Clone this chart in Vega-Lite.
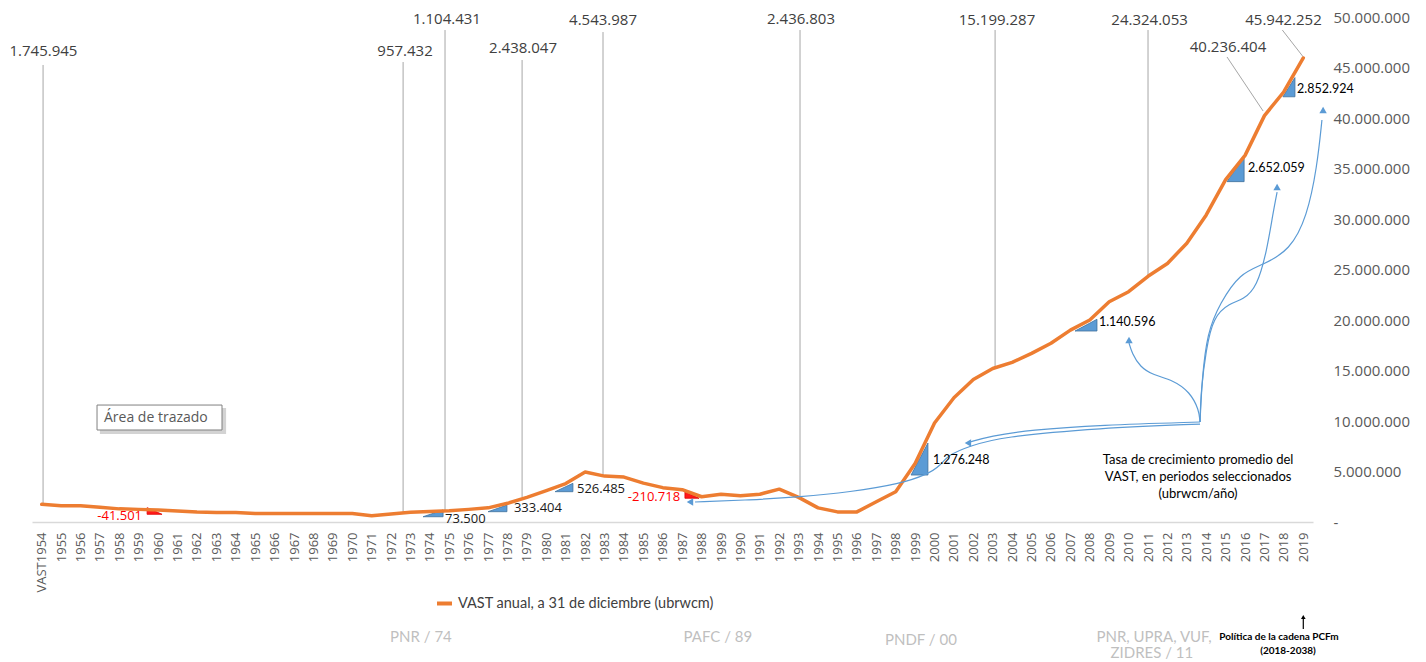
{
  "$schema": "https://vega.github.io/schema/vega-lite/v6.json",
  "width": 1281,
  "height": 505,
  "autosize": {"type": "none"},
  "padding": {"left": 32, "top": 17, "right": 113, "bottom": 140},
  "background": "white",
  "config": {"view": {"stroke": null}, "font": "Open Sans"},
  "datasets": {
    "line": [
      {"x": 1954, "y": 1745945}, {"x": 1955, "y": 1600000}, {"x": 1956, "y": 1600000}, {"x": 1957, "y": 1450000},
      {"x": 1958, "y": 1300000}, {"x": 1959, "y": 1250000}, {"x": 1960, "y": 1200000}, {"x": 1961, "y": 1100000},
      {"x": 1962, "y": 1000000}, {"x": 1963, "y": 950000}, {"x": 1964, "y": 950000}, {"x": 1965, "y": 850000},
      {"x": 1966, "y": 850000}, {"x": 1967, "y": 850000}, {"x": 1968, "y": 850000}, {"x": 1969, "y": 850000},
      {"x": 1970, "y": 850000}, {"x": 1971, "y": 620000}, {"x": 1972, "y": 800000}, {"x": 1973, "y": 957432},
      {"x": 1974, "y": 1050000}, {"x": 1975, "y": 1104431}, {"x": 1976, "y": 1250000}, {"x": 1977, "y": 1400000},
      {"x": 1978, "y": 1850000}, {"x": 1979, "y": 2438047}, {"x": 1980, "y": 3100000}, {"x": 1981, "y": 3800000},
      {"x": 1982, "y": 4950000}, {"x": 1983, "y": 4543987}, {"x": 1984, "y": 4450000}, {"x": 1985, "y": 3850000},
      {"x": 1986, "y": 3400000}, {"x": 1987, "y": 3200000}, {"x": 1988, "y": 2500000}, {"x": 1989, "y": 2750000},
      {"x": 1990, "y": 2600000}, {"x": 1991, "y": 2750000}, {"x": 1992, "y": 3250000}, {"x": 1993, "y": 2436803},
      {"x": 1994, "y": 1400000}, {"x": 1995, "y": 1000000}, {"x": 1996, "y": 1000000}, {"x": 1997, "y": 2000000},
      {"x": 1998, "y": 3000000}, {"x": 1999, "y": 5800000}, {"x": 2000, "y": 9800000}, {"x": 2001, "y": 12300000},
      {"x": 2002, "y": 14100000}, {"x": 2003, "y": 15199287}, {"x": 2004, "y": 15800000}, {"x": 2005, "y": 16700000},
      {"x": 2006, "y": 17700000}, {"x": 2007, "y": 19000000}, {"x": 2008, "y": 20000000}, {"x": 2009, "y": 21800000},
      {"x": 2010, "y": 22800000}, {"x": 2011, "y": 24324053}, {"x": 2012, "y": 25600000}, {"x": 2013, "y": 27600000},
      {"x": 2014, "y": 30400000}, {"x": 2015, "y": 33900000}, {"x": 2016, "y": 36300000}, {"x": 2017, "y": 40236404},
      {"x": 2018, "y": 42600000}, {"x": 2019, "y": 45942252}
    ],
    "leaders": [
      {"x": 1954.07, "y": 1745945, "x2": 1954.07, "y2": 45250000},
      {"x": 1972.62, "y": 957432, "x2": 1972.62, "y2": 45540000},
      {"x": 1974.78, "y": 1104431, "x2": 1974.78, "y2": 48710000},
      {"x": 1978.75, "y": 2438047, "x2": 1978.75, "y2": 45740000},
      {"x": 1982.92, "y": 4543987, "x2": 1982.92, "y2": 48510000},
      {"x": 1993.07, "y": 2436803, "x2": 1993.07, "y2": 48710000},
      {"x": 2003.12, "y": 15199287, "x2": 2003.12, "y2": 48710000},
      {"x": 2011.0, "y": 24324053, "x2": 2011.0, "y2": 48710000},
      {"x": 2016.93, "y": 40690000, "x2": 2015.07, "y2": 46040000},
      {"x": 2019.0, "y": 46040000, "x2": 2017.92, "y2": 48710000}
    ],
    "tops": [
      {"x": 1954.09, "y": 46630000, "t": "1.745.945"},
      {"x": 1972.72, "y": 46630000, "t": "957.432"},
      {"x": 1974.88, "y": 49800000, "t": "1.104.431"},
      {"x": 1978.8, "y": 46930000, "t": "2.438.047"},
      {"x": 1982.92, "y": 49700000, "t": "4.543.987"},
      {"x": 1993.12, "y": 49800000, "t": "2.436.803"},
      {"x": 2003.22, "y": 49700000, "t": "15.199.287"},
      {"x": 2011.08, "y": 49700000, "t": "24.324.053"},
      {"x": 2015.12, "y": 47030000, "t": "40.236.404"},
      {"x": 2017.98, "y": 49700000, "t": "45.942.252"}
    ],
    "tb": [
      {"id": 1, "x": 1973.65, "y": 520000, "y2": 520000}, {"id": 1, "x": 1974.68, "y": 1190000, "y2": 520000},
      {"id": 2, "x": 1977.0, "y": 1020000, "y2": 1020000}, {"id": 2, "x": 1977.97, "y": 1680000, "y2": 1020000},
      {"id": 3, "x": 1980.45, "y": 3000000, "y2": 3000000}, {"id": 3, "x": 1981.37, "y": 3830000, "y2": 3000000},
      {"id": 4, "x": 1998.79, "y": 4650000, "y2": 4650000}, {"id": 4, "x": 1999.66, "y": 7820000, "y2": 4650000},
      {"id": 5, "x": 2007.24, "y": 18910000, "y2": 18910000}, {"id": 5, "x": 2008.37, "y": 20070000, "y2": 18910000},
      {"id": 6, "x": 2015.07, "y": 33700000, "y2": 33700000}, {"id": 6, "x": 2015.95, "y": 36100000, "y2": 33700000},
      {"id": 7, "x": 2017.95, "y": 42100000, "y2": 42100000}, {"id": 7, "x": 2018.57, "y": 44000000, "y2": 42100000}
    ],
    "tr": [
      {"id": 1, "x": 1959.43, "y": 1420000, "y2": 760000}, {"id": 1, "x": 1960.2, "y": 760000, "y2": 760000},
      {"id": 2, "x": 1987.14, "y": 3000000, "y2": 2350000}, {"id": 2, "x": 1987.87, "y": 2350000, "y2": 2350000}
    ],
    "lbBig": [
      {"x": 1974.78, "y": 300000, "t": "73.500"},
      {"x": 1978.33, "y": 1390000, "t": "333.404"},
      {"x": 1981.58, "y": 3270000, "t": "526.485"}
    ],
    "lbSmall": [
      {"x": 1999.92, "y": 6140000, "t": "1.276.248"},
      {"x": 2008.47, "y": 19800000, "t": "1.140.596"},
      {"x": 2016.15, "y": 35050000, "t": "2.652.059"},
      {"x": 2018.68, "y": 42870000, "t": "2.852.924"}
    ],
    "lr": [
      {"x": 1959.17, "y": 590000, "t": "-41.501"},
      {"x": 1986.89, "y": 2480000, "t": "-210.718"}
    ],
    "arr": [
      {"id": "A", "i": 1, "x": 2013.68, "y": 9900000}, {"id": "A", "i": 2, "x": 2008.53, "y": 9600000},
      {"id": "A", "i": 3, "x": 2004.92, "y": 9110000}, {"id": "A", "i": 4, "x": 2002.86, "y": 8510000},
      {"id": "A", "i": 5, "x": 2001.8, "y": 7900000},
      {"id": "B", "i": 1, "x": 2013.68, "y": 9700000}, {"id": "B", "i": 2, "x": 2008.53, "y": 9310000},
      {"id": "B", "i": 3, "x": 2003.37, "y": 8420000}, {"id": "B", "i": 4, "x": 2001.83, "y": 7520000},
      {"id": "B", "i": 5, "x": 2000.69, "y": 6630000}, {"id": "B", "i": 6, "x": 2000.28, "y": 5540000},
      {"id": "B", "i": 7, "x": 1999.66, "y": 4750000}, {"id": "B", "i": 8, "x": 1998.22, "y": 3760000},
      {"id": "B", "i": 9, "x": 1995.65, "y": 2970000}, {"id": "B", "i": 10, "x": 1993.07, "y": 2480000},
      {"id": "B", "i": 11, "x": 1990.49, "y": 2180000}, {"id": "B", "i": 12, "x": 1987.66, "y": 1980000},
      {"id": "C", "i": 1, "x": 2013.68, "y": 9900000}, {"id": "C", "i": 2, "x": 2013.63, "y": 11090000},
      {"id": "C", "i": 3, "x": 2013.16, "y": 12870000}, {"id": "C", "i": 4, "x": 2012.29, "y": 14060000},
      {"id": "C", "i": 5, "x": 2011.26, "y": 14550000}, {"id": "C", "i": 6, "x": 2010.59, "y": 15350000},
      {"id": "C", "i": 7, "x": 2010.17, "y": 16730000}, {"id": "C", "i": 8, "x": 2010.02, "y": 17720000},
      {"id": "D", "i": 1, "x": 2013.68, "y": 9900000}, {"id": "D", "i": 2, "x": 2013.73, "y": 13070000},
      {"id": "D", "i": 3, "x": 2013.99, "y": 17030000}, {"id": "D", "i": 4, "x": 2014.35, "y": 20300000},
      {"id": "D", "i": 5, "x": 2015.22, "y": 21680000}, {"id": "D", "i": 6, "x": 2015.89, "y": 21980000},
      {"id": "D", "i": 7, "x": 2016.62, "y": 23270000}, {"id": "D", "i": 8, "x": 2017.13, "y": 26930000},
      {"id": "D", "i": 9, "x": 2017.44, "y": 30590000}, {"id": "D", "i": 10, "x": 2017.65, "y": 32670000},
      {"id": "E", "i": 1, "x": 2013.68, "y": 9900000}, {"id": "E", "i": 2, "x": 2013.78, "y": 14060000},
      {"id": "E", "i": 3, "x": 2014.04, "y": 18710000}, {"id": "E", "i": 4, "x": 2014.71, "y": 21680000},
      {"id": "E", "i": 5, "x": 2015.74, "y": 24650000}, {"id": "E", "i": 6, "x": 2016.92, "y": 25450000},
      {"id": "E", "i": 7, "x": 2018.32, "y": 26930000}, {"id": "E", "i": 8, "x": 2019.19, "y": 30200000},
      {"id": "E", "i": 9, "x": 2019.71, "y": 35150000}, {"id": "E", "i": 10, "x": 2019.96, "y": 39800000}
    ],
    "headsUp": [
      {"x": 2010.02, "y": 18020000},
      {"x": 2017.65, "y": 33170000},
      {"x": 2020.02, "y": 40790000}
    ],
    "headsLeft": [
      {"x": 2001.72, "y": 7820000},
      {"x": 1987.4, "y": 1980000}
    ],
    "tasa": [
      {"x": 2013.58, "y": 6140000, "t": "Tasa de crecimiento promedio del"},
      {"x": 2013.58, "y": 4460000, "t": "VAST, en periodos seleccionados"},
      {"x": 2013.58, "y": 2770000, "t": "(ubrwcm/año)"}
    ],
    "boxShadow": [{"x": 1957.0, "x2": 1963.5, "y": 11290000, "y2": 8710000}],
    "box": [{"x": 1956.85, "x2": 1963.29, "y": 11580000, "y2": 9110000}],
    "boxText": [{"x": 1957.21, "y": 10300000, "t": "Área de trazado"}],
    "bottomGray": [
      {"x": 1973.54, "y": -11390000, "t": "PNR / 74"},
      {"x": 1988.84, "y": -11390000, "t": "PAFC / 89"},
      {"x": 1999.3, "y": -11680000, "t": "PNDF / 00"},
      {"x": 2011.31, "y": -11390000, "t": "PNR, UPRA, VUF,"},
      {"x": 2011.2, "y": -12950000, "t": "ZIDRES / 11"}
    ],
    "bottomBlack": [
      {"x": 2017.75, "y": -11390000, "t": "Política de la cadena PCFm"},
      {"x": 2018.21, "y": -12770000, "t": "(2018-2038)"}
    ],
    "smallArrow": [{"x": 2019.0, "y": -10590000, "x2": 2019.0, "y2": -9600000}],
    "smallHead": [{"x": 2019.0, "y": -9410000}]
  },
  "encoding": {
    "x": {
      "field": "x", "type": "quantitative",
      "scale": {"domain": [1953.5, 2019.5], "nice": false, "zero": false},
      "axis": {
        "title": null,
        "values": [1954,1955,1956,1957,1958,1959,1960,1961,1962,1963,1964,1965,1966,1967,1968,1969,1970,1971,1972,1973,1974,1975,1976,1977,1978,1979,1980,1981,1982,1983,1984,1985,1986,1987,1988,1989,1990,1991,1992,1993,1994,1995,1996,1997,1998,1999,2000,2001,2002,2003,2004,2005,2006,2007,2008,2009,2010,2011,2012,2013,2014,2015,2016,2017,2018,2019],
        "format": "d",
        "labelExpr": "datum.value == 1954 ? 'VAST1954' : datum.label",
        "labelAngle": 270,
        "labelOverlap": false,
        "labelBound": false,
        "labelFlush": false,
        "labelFont": "Open Sans",
        "labelFontSize": 13,
        "labelColor": "#595959",
        "labelPadding": 10,
        "ticks": false,
        "grid": false,
        "domainColor": "#D9D9D9",
        "domainWidth": 1.5
      }
    },
    "y": {
      "field": "y", "type": "quantitative",
      "scale": {"domain": [0, 50000000], "nice": false, "zero": false},
      "axis": {
        "title": null,
        "orient": "right",
        "values": [0, 5000000, 10000000, 15000000, 20000000, 25000000, 30000000, 35000000, 40000000, 45000000, 50000000],
        "labelExpr": "datum.value == 0 ? '-' : replace(format(datum.value, ','), regexp(',', 'g'), '.')",
        "labelFont": "Open Sans",
        "labelFontSize": 15,
        "labelColor": "#595959",
        "labelAlign": "left",
        "labelPadding": 20,
        "ticks": false,
        "domain": false,
        "grid": false
      }
    }
  },
  "layer": [
    {
      "data": {"name": "leaders"},
      "mark": {"type": "rule", "color": "#A6A6A6", "strokeWidth": 1},
      "encoding": {"x2": {"field": "x2"}, "y2": {"field": "y2"}}
    },
    {
      "data": {"name": "boxShadow"},
      "mark": {"type": "rect", "fill": "#C8C8C8", "opacity": 0.8},
      "encoding": {"x2": {"field": "x2"}, "y2": {"field": "y2"}}
    },
    {
      "data": {"name": "box"},
      "mark": {"type": "rect", "fill": "white", "stroke": "#808080", "strokeWidth": 1},
      "encoding": {"x2": {"field": "x2"}, "y2": {"field": "y2"}}
    },
    {
      "data": {"name": "boxText"},
      "mark": {"type": "text", "align": "left", "baseline": "middle", "font": "Open Sans", "fontSize": 14, "color": "#595959"},
      "encoding": {"text": {"field": "t"}}
    },
    {
      "data": {"name": "tb"},
      "mark": {"type": "area", "fill": "#5B9BD5", "stroke": "#41719C", "strokeWidth": 0.8, "interpolate": "linear"},
      "encoding": {"y2": {"field": "y2"}, "detail": {"field": "id"}}
    },
    {
      "data": {"name": "tr"},
      "mark": {"type": "area", "fill": "#FF1A1A", "stroke": "#E00000", "strokeWidth": 0.8, "interpolate": "linear"},
      "encoding": {"y2": {"field": "y2"}, "detail": {"field": "id"}}
    },
    {
      "data": {"name": "line"},
      "mark": {"type": "line", "strokeWidth": 3.5, "strokeCap": "round", "strokeJoin": "round"},
      "encoding": {
        "color": {
          "datum": "VAST anual, a 31 de diciembre (ubrwcm)",
          "type": "nominal",
          "scale": {"range": ["#ED7D31"]},
          "legend": {
            "title": null,
            "orient": "none",
            "legendX": 403,
            "legendY": 577,
            "direction": "horizontal",
            "symbolType": "stroke",
            "symbolStrokeWidth": 4,
            "symbolSize": 225,
            "labelFont": "Lato",
            "labelFontSize": 14.5,
            "labelColor": "#404040",
            "labelLimit": 0,
            "padding": 0
          }
        }
      }
    },
    {
      "data": {"name": "arr"},
      "mark": {"type": "line", "interpolate": "basis", "stroke": "#5B9BD5", "strokeWidth": 1.2},
      "encoding": {"detail": {"field": "id"}, "order": {"field": "i", "type": "quantitative"}}
    },
    {
      "data": {"name": "headsUp"},
      "mark": {"type": "point", "shape": "triangle-up", "filled": true, "color": "#5B9BD5", "size": 55, "opacity": 1}
    },
    {
      "data": {"name": "headsLeft"},
      "mark": {"type": "point", "shape": "triangle-left", "filled": true, "color": "#5B9BD5", "size": 55, "opacity": 1}
    },
    {
      "data": {"name": "tops"},
      "mark": {"type": "text", "align": "center", "baseline": "middle", "font": "Open Sans", "fontSize": 15, "color": "#404040"},
      "encoding": {"text": {"field": "t"}}
    },
    {
      "data": {"name": "lbBig"},
      "mark": {"type": "text", "align": "left", "baseline": "middle", "font": "Open Sans", "fontSize": 13, "color": "#1A1A1A"},
      "encoding": {"text": {"field": "t"}}
    },
    {
      "data": {"name": "lbSmall"},
      "mark": {"type": "text", "align": "left", "baseline": "middle", "font": "Lato", "fontSize": 12.5, "color": "#000000"},
      "encoding": {"text": {"field": "t"}}
    },
    {
      "data": {"name": "lr"},
      "mark": {"type": "text", "align": "right", "baseline": "middle", "font": "Open Sans", "fontSize": 13, "color": "#FF0000"},
      "encoding": {"text": {"field": "t"}}
    },
    {
      "data": {"name": "tasa"},
      "mark": {"type": "text", "align": "center", "baseline": "middle", "font": "Lato", "fontSize": 13, "color": "#000000"},
      "encoding": {"text": {"field": "t"}}
    },
    {
      "data": {"name": "bottomGray"},
      "mark": {"type": "text", "align": "center", "baseline": "middle", "font": "Lato", "fontSize": 15, "color": "#BFBFBF"},
      "encoding": {"text": {"field": "t"}}
    },
    {
      "data": {"name": "bottomBlack"},
      "mark": {"type": "text", "align": "center", "baseline": "middle", "font": "Lato", "fontSize": 10, "fontWeight": "bold", "color": "#000000"},
      "encoding": {"text": {"field": "t"}}
    },
    {
      "data": {"name": "smallArrow"},
      "mark": {"type": "rule", "color": "#000000", "strokeWidth": 1.2},
      "encoding": {"x2": {"field": "x2"}, "y2": {"field": "y2"}}
    },
    {
      "data": {"name": "smallHead"},
      "mark": {"type": "point", "shape": "triangle-up", "filled": true, "color": "#000000", "size": 22, "opacity": 1}
    }
  ]
}
